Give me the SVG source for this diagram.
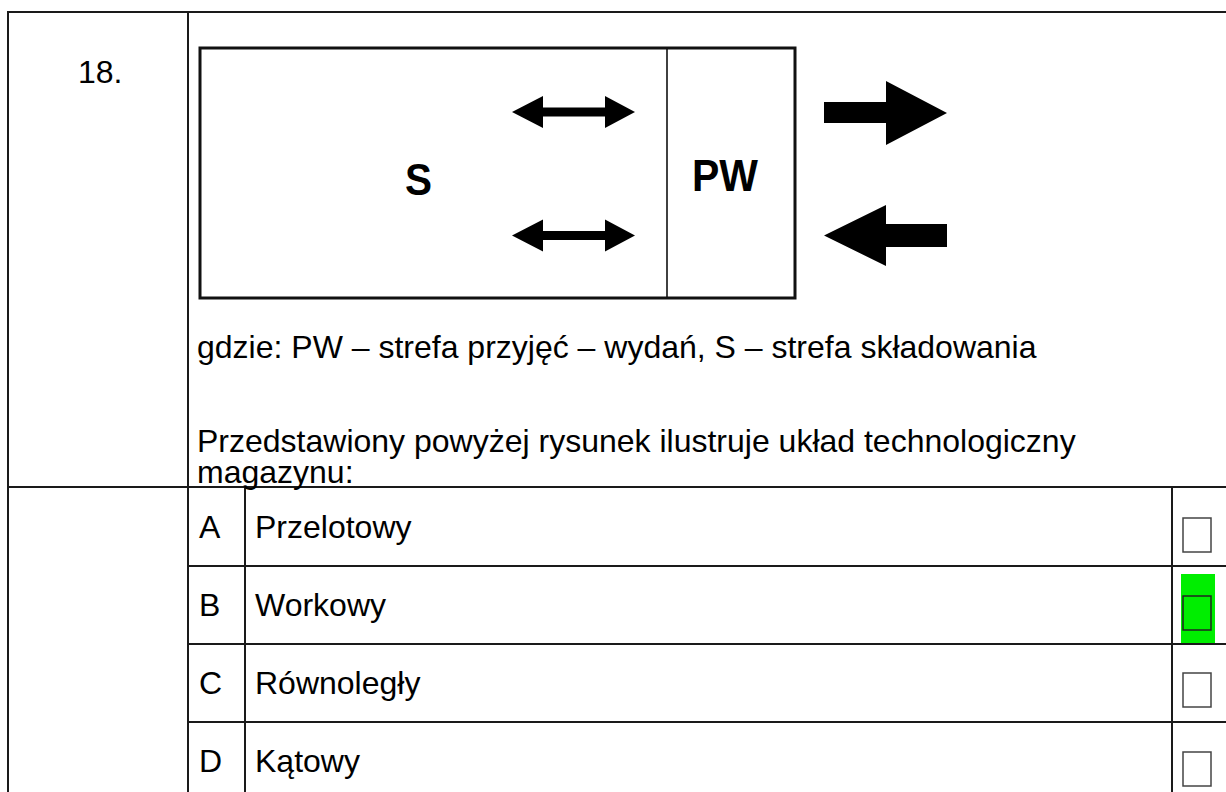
<svg xmlns="http://www.w3.org/2000/svg" width="1226" height="792" viewBox="0 0 1226 792">
<style>
.grid{stroke:#1a1a1a;stroke-width:2;fill:none}
.t{font-family:"Liberation Sans",Arial,sans-serif;font-size:32px;fill:#000}
.b{font-family:"Liberation Sans",Arial,sans-serif;font-size:44px;font-weight:bold;fill:#000}
.chk{fill:#fff;stroke:#444;stroke-width:1.5}
.arr{fill:#000}
</style>
<rect width="1226" height="792" fill="#fff"/>
<g id="table">
<path class="grid" d="M8,792 V12 H1226 M188,12 V792 M8,487 H1226 M245,487 V792 M1172,487 V792 M188,566 H1226 M188,644 H1226 M188,722 H1226"/>
</g>
<g id="number"><text class="t" x="78" y="83">18.</text></g>
<g id="warehouse">
<rect x="200" y="48" width="595" height="250" fill="#fff" stroke="#111" stroke-width="3"/>
<line x1="667" y1="48" x2="667" y2="298" stroke="#111" stroke-width="1.6"/>
</g>
<g id="zone-S"><text class="b" x="405" y="195" textLength="27" lengthAdjust="spacingAndGlyphs">S</text></g>
<g id="zone-PW"><text class="b" x="692" y="191" textLength="66" lengthAdjust="spacingAndGlyphs">PW</text></g>
<g id="connectors">
<polygon class="arr" points="512,112 543,96 543,107.5 605,107.5 605,96 635,112 605,128 605,116.5 543,116.5 543,128"/>
<polygon class="arr" points="512,235.5 543,219.5 543,231 605,231 605,219.5 635,235.5 605,251.5 605,240 543,240 543,251.5"/>
<polygon class="arr" points="824,102 886,102 886,81 947,113 886,145 886,123 824,123"/>
<polygon class="arr" points="824,235.5 886,205 886,224 947,224 947,247 886,247 886,266"/>
</g>
<g id="legend">
<text class="t" x="197" y="358">gdzie: PW – strefa przyjęć – wydań, S – strefa składowania</text>
<text class="t" x="197" y="452">Przedstawiony powyżej rysunek ilustruje układ technologiczny</text>
<text class="t" x="197" y="483">magazynu:</text>
</g>
<g id="option-A">
<text class="t" x="199" y="538">A</text>
<text class="t" x="255" y="538">Przelotowy</text>
<rect class="chk" x="1183" y="518" width="28" height="34"/>
</g>
<g id="option-B">
<text class="t" x="199" y="616">B</text>
<text class="t" x="255" y="616">Workowy</text>
<rect x="1181" y="574" width="34" height="69" fill="#00ee00"/>
<rect x="1183" y="596" width="28" height="34" fill="none" stroke="#222" stroke-width="1.5"/>
</g>
<g id="option-C">
<text class="t" x="199" y="694">C</text>
<text class="t" x="255" y="694">Równoległy</text>
<rect class="chk" x="1183" y="673" width="28" height="34"/>
</g>
<g id="option-D">
<text class="t" x="199" y="772">D</text>
<text class="t" x="255" y="772">Kątowy</text>
<rect class="chk" x="1183" y="752" width="28" height="34"/>
</g>
</svg>
